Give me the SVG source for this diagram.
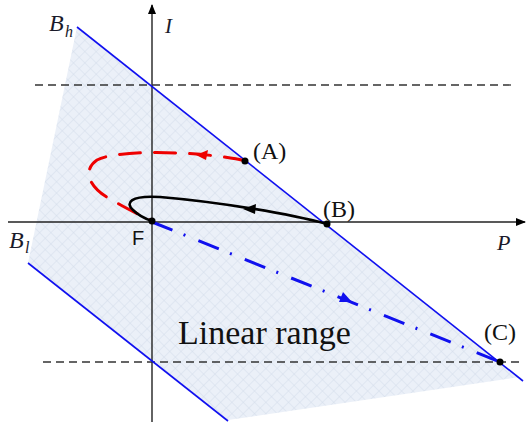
<svg xmlns="http://www.w3.org/2000/svg" width="526" height="425" viewBox="0 0 526 425">
<style>
.ax{stroke:#222;stroke-width:1.4;fill:none}
.bl{stroke:#1010f0;stroke-width:1.6;fill:none}
.dash{stroke:#333;stroke-width:1.3;stroke-dasharray:8 5;fill:none}
.it{font-family:"Liberation Serif",serif;font-style:italic;fill:#1a1a2a}
.lab{font-family:"Liberation Serif",serif;fill:#111;font-size:24px}
.dot{fill:#000}
</style>
<defs>
<pattern id="hatch" width="8" height="8" patternUnits="userSpaceOnUse" patternTransform="rotate(45)">
<rect width="8" height="8" fill="#ebf0f8"/>
<path d="M0 0H8M0 0V8" stroke="#d3dcea" stroke-width="1"/>
</pattern>
<marker id="ah" viewBox="0 0 10 10" refX="9" refY="5" markerWidth="10" markerHeight="10" markerUnits="userSpaceOnUse" orient="auto">
<path d="M0 1L10 5L0 9z" fill="#000"/>
</marker>
</defs>
<g id="region">
<polygon points="77,27 523,380 520,377 228,420 28,263" fill="url(#hatch)"/>
</g>
<g id="axes">
<line class="ax" x1="152" y1="422" x2="152" y2="5" marker-end="url(#ah)"/>
<line class="ax" x1="8" y1="222" x2="525" y2="222" marker-end="url(#ah)"/>
<line class="dash" x1="35" y1="85" x2="512" y2="85"/>
<line class="dash" x1="43" y1="362" x2="520" y2="362"/>
</g>
<g id="bounds">
<line class="bl" x1="77" y1="27" x2="523" y2="381"/>
<line class="bl" x1="28" y1="263" x2="228" y2="421"/>
</g>
<g id="connectors">
<path d="M245,161 C210,152 120,148 97,160 C80,172 92,190 112,200 C125,208 140,215 152,221" fill="none" stroke="#ee0000" stroke-width="3" stroke-dasharray="21 14" stroke-linecap="round"/>
<polygon points="196,155 208,150 206,160" fill="#ee0000"/>
<path d="M327,224 C290,214 220,202 160,197 C130,195 125,203 133,210 C138,215 146,219 152,221" fill="none" stroke="#000" stroke-width="2.6"/>
<polygon points="243,209 256,204 255,214" fill="#000"/>
<path d="M152,222 L500,362" fill="none" stroke="#1010ee" stroke-width="3" stroke-dasharray="22 12 2 14"/>
<polygon points="352,302 339,302 343,292" fill="#1010ee"/>
</g>
<g id="nodes">
<g id="A"><circle class="dot" cx="245" cy="161" r="3.5"/><text class="lab" x="253" y="159">(A)</text></g>
<g id="B"><circle class="dot" cx="327" cy="224" r="3.5"/><text class="lab" x="323" y="217">(B)</text></g>
<g id="C"><circle class="dot" cx="500" cy="362" r="3.5"/><text class="lab" x="484" y="340">(C)</text></g>
<g id="F"><circle class="dot" cx="152" cy="221" r="3.5"/><text x="132" y="245" font-family="Liberation Sans,sans-serif" font-size="20" fill="#111">F</text></g>
</g>
<g id="labels">
<text class="it" x="49" y="31" font-size="24">B</text><text class="it" x="65" y="37" font-size="16">h</text>
<text class="it" x="9" y="248" font-size="24">B</text><text class="it" x="25" y="253" font-size="16">l</text>
<text class="it" x="165" y="33" font-size="21">I</text>
<text class="it" x="497" y="250" font-size="22">P</text>
<text x="178" y="344" font-family="Liberation Serif,serif" font-size="34" fill="#111">Linear range</text>
</g>
</svg>
